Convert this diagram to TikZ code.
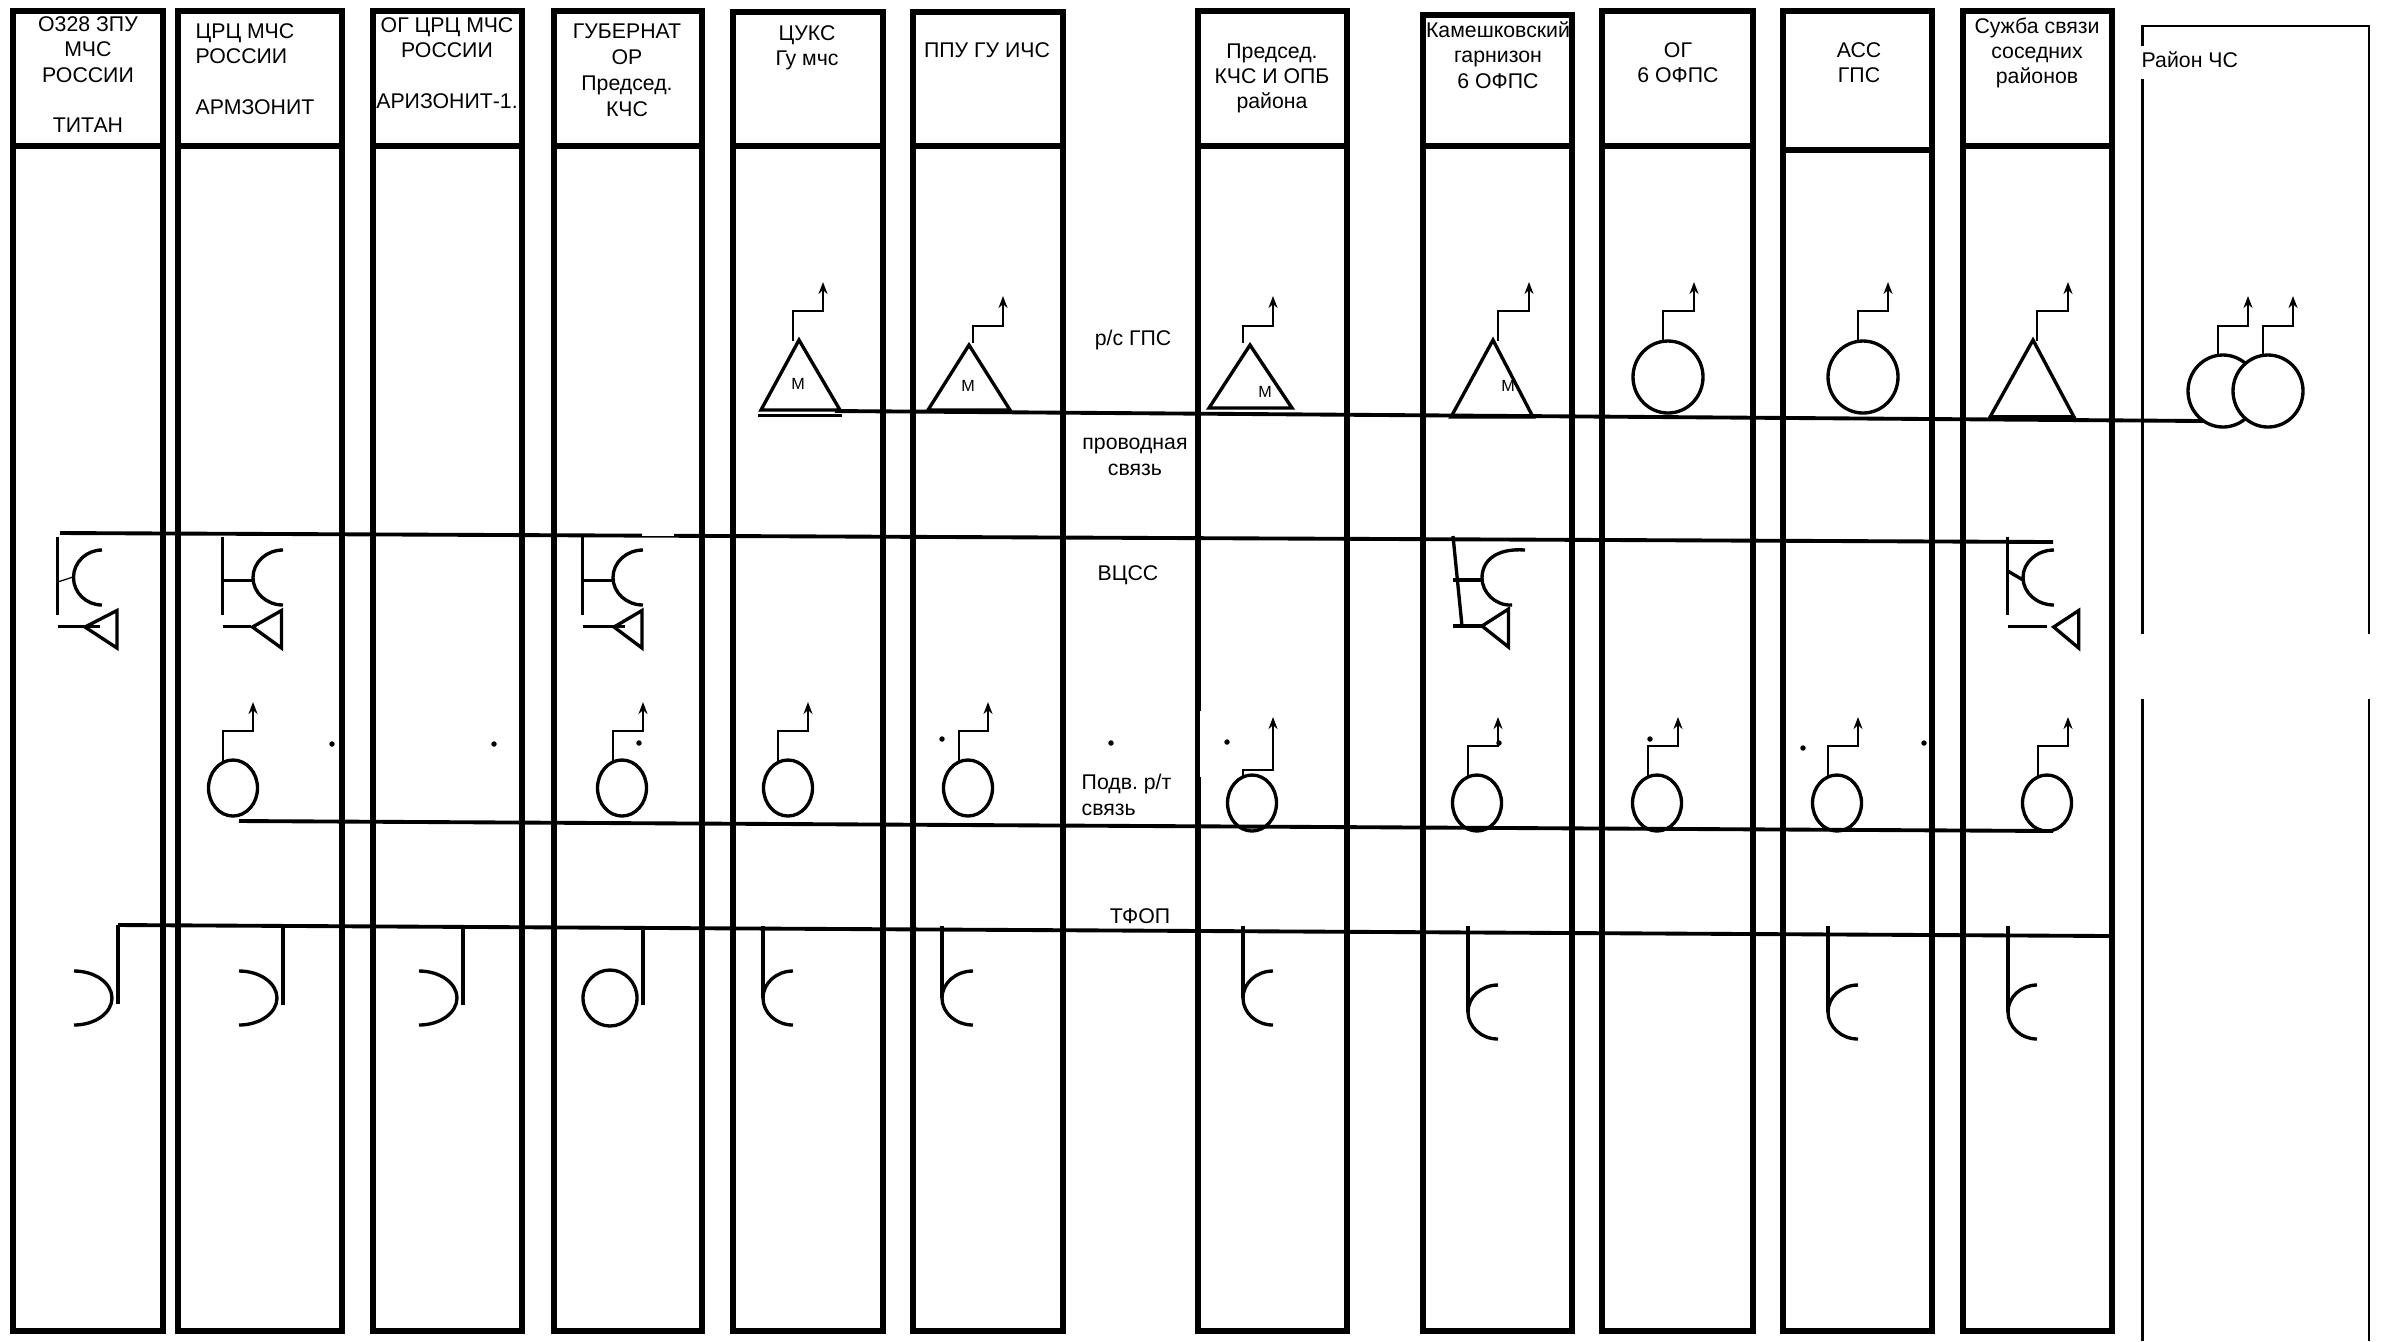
\documentclass[tikz,border=0pt]{standalone}
\usepackage{fontspec}
\setmainfont{Liberation Sans}
\usepackage{tikz}
\usetikzlibrary{positioning,arrows.meta}
\tikzset{
  lane/.style={line width=1.7pt},
  hdrln/.style={line width=1.75pt},
  bus/.style={line width=1.1pt},
  thinln/.style={line width=0.6pt},
  hair/.style={line width=0.35pt},
  sym/.style={line width=0.95pt},
  stub/.style={line width=1.1pt},
  antenna/.style={line width=0.65pt,-{Stealth[length=1.2mm,width=0.9mm]}},
  dotpt/.style={circle,fill=black,inner sep=0.55pt},
  hdr/.style={anchor=north,align=center,inner sep=0pt,font=\fontsize{6.05}{7.2}\selectfont},
  lbl/.style={inner sep=0pt,align=center,font=\fontsize{6.05}{7.2}\selectfont},
  mlbl/.style={inner sep=0pt,font=\fontsize{4.6}{5}\selectfont},
}
\begin{document}
\frenchspacing
\begin{tikzpicture}[x=0.01cm,y=-0.01cm]
  \useasboundingbox (0,0) rectangle (2381,1341);
  % lanes: left/right/top/bottom of the header
  \foreach \lx/\rx/\ty/\by in {13/163/11/146,178/342/11/146,373/522/11/146,554/702/11/146,
    733/883/12/146,913/1063/12/146,1198/1347/11/146,1423/1572/15/146,1602/1753/11/146,
    1783/1932/11/150,1963/2112/11/146}{
    \draw[lane] (\lx,\ty) rectangle (\rx,1331);
    \draw[hdrln] (\lx,\ty)--(\rx,\ty);
    \draw[hdrln] (\lx,\by)--(\rx,\by);
  }
  \fill[white] (1199.5,711) rectangle (1202,777);
  % Rayon CHS, open at the bottom
  \draw[thinln] (2142.5,45.5)--(2142.5,26)--(2369,26)--(2369,634);
  \draw[thinln] (2142.5,79)--(2142.5,634);
  \draw[thinln] (2142.5,699)--(2142.5,1341);
  \draw[thinln] (2369,699)--(2369,1341);
  % headers
  \node[hdr] (h1) at (88,16) {О328 ЗПУ\\МЧС\\РОССИИ\\[7.2pt]ТИТАН};
  \node[hdr,align=left] (h2) at (255,23) {ЦРЦ МЧС\\РОССИИ\\[7.2pt]АРМЗОНИТ};
  \node[hdr] (h3) at (447,17) {ОГ ЦРЦ МЧС\\РОССИИ\\[7.2pt]АРИЗОНИТ-1.};
  \node[hdr,font=\fontsize{6.05}{7.4}\selectfont] (h4) at (627,23) {ГУБЕРНАТ\\ОР\\Председ.\\КЧС};
  \node[hdr] (h5) at (807,25) {ЦУКС\\Гу мчс};
  \node[hdr] (h6) at (987,42) {ППУ ГУ ИЧС};
  \node[hdr] (h7) at (1272,43) {Председ.\\КЧС И ОПБ\\района};
  \node[hdr] (h8) at (1498,21) {Камешковский\\гарнизон\\6 ОФПС};
  \node[hdr] (h9) at (1678,42) {ОГ\\6 ОФПС};
  \node[hdr] (h10) at (1859,42) {АСС\\ГПС};
  \node[hdr] (h11) at (2037,17) {Сужба связи\\соседних\\районов};
  \node[lbl,anchor=west] (h12) at (2141,60) {Район ЧС};
  % row labels
  \node[lbl] (rs) at (1133,340) {р/с ГПС};
  \node[lbl] (wire) at (1135,457) {проводная\\связь};
  \node[lbl] (vcss) at (1128,575) {ВЦСС};
  \node[lbl,align=left,anchor=west] (podv) at (1081,795) {Подв. р/т\\связь};
  \node[lbl] (tfop) at (1140,916) {ТФОП};
  % bus lines
  \draw[bus] (835,411)--(2203,421);
  \draw[bus] (60,533)--(2053,542);
  \draw[bus] (239,821)--(2053,831);
  \draw[bus] (118,925)--(2111,936);
  \draw[sym] (118,925)--(118,1004);
  \fill[white] (642,530) rectangle (674,535.6);
  % triangles of the radio row
  \foreach \ax/\ay/\lx/\rx/\by in {799/340/761/840/410,969/345/928/1010/410,1250/345/1209/1292/408,
    1493/340/1451/1533/417,2033/340/1990/2074/417}{
    \draw[sym] (\ax,\ay)--(\lx,\by)--(\rx,\by)--cycle;
  }
  \draw[sym] (758,415.5)--(842,415.5);
  \draw[bus] (1990,417)--(2074,417);
  \node[mlbl] (m5) at (798,384) {М};
  \node[mlbl] (m6) at (968,386) {М};
  \node[mlbl] (m7) at (1265,392) {М};
  \node[mlbl] (m8) at (1508,386) {М};
  % circles of the radio row
  \foreach \cx/\cy in {1668/377,1863/377,2223/391,2268/391}{
    \draw[sym,fill=white] (\cx,\cy) ellipse [x radius=35,y radius=36];
  }
  % circles of the underground row
  \foreach \cx/\cy in {233/788,622/788,788/788,968/788,1252/803,1477/803,1657/803,1837/803,2047/803}{
    \draw[sym] (\cx,\cy) ellipse [x radius=24.5,y radius=28];
  }
  % aerials
  \foreach \ax/\ay/\bx/\by/\ty in {793/341/823/311/282,973/343/1003/326/296,1243/343/1273/326/296,
    1498/341/1529/311/282,1663/340/1694/311/282,1858/340/1888/311/282,2037/341/2068/311/282,
    2218/355/2248/326/296,2263/355/2293/326/296,
    223/761/253/731/702,613/761/643/731/702,778/761/808/731/702,959/761/988/731/702,
    1243/777/1273/770/717,1468/776/1498/746/717,1648/776/1678/746/717,1828/776/1858/746/717,2038/776/2068/746/717}{
    \draw[antenna] (\ax,\ay)--(\ax,\by)--(\bx,\by)--(\bx,\ty);
  }
  % stray dots
  \foreach \dx/\dy in {332/744,494/744,639/743,942/739,1111/743,1227/742,1499/743,1650/739,1803/748,1924/743}{
    \node[dotpt] at (\dx,\dy) {};
  }
  % VCSS sets: upright bar, cup, horn
  \foreach \bx/\rx/\rr/\tx/\tw in {57.7/102/28.5/117/32,222.7/283/30/281.5/29,582.5/643/30/642/28,2007.7/2054/31/2078.7/25}{
    \draw[sym] (\bx,536.5)--(\bx,615);
    \draw[sym] (\rx,550) arc [start angle=270,end angle=90,x radius=\rr,y radius=27.5];
    \draw[sym] (\tx,610.5)--(\tx-\tw,627)--(\tx,648)--cycle;
  }
  \draw[hair] (57.7,582)--(73,577);
  \draw[stub] (222.7,580.5)--(253,580.5);
  \draw[stub] (582.5,580.5)--(613,580.5);
  \draw[sym] (2007.7,571)--(2023,580);
  \draw[stub] (57.7,626.5)--(100,626.5);
  \draw[stub] (222.7,626.5)--(251,626.5);
  \draw[stub] (582.5,626.5)--(625,626.5);
  \draw[stub] (2007.7,626.5)--(2047,626.5);
  % the one set with a leaning bar
  \draw[sym] (1453,536)--(1462,626);
  \draw[sym] (1525,550) .. controls (1497,548) and (1482,560) .. (1482,578) .. controls (1482,592) and (1495,606) .. (1512,605);
  \draw[stub] (1453,580)--(1482,580);
  \draw[sym] (1508.5,609)--(1482,626)--(1508.5,647)--cycle;
  \draw[stub] (1453,626)--(1482,626);
  % TFOP sets, cup open to the left
  \foreach \bx/\lx/\ty in {283/239/927,463/419/928}{
    \draw[sym] (\bx,\ty)--(\bx,1005);
    \draw[sym] (\lx,971) arc [start angle=270,end angle=450,x radius=38,y radius=27];
  }
  \draw[sym] (74,971) arc [start angle=270,end angle=450,x radius=38,y radius=27];
  \draw[sym] (643,926)--(643,1005);
  \draw[sym] (610,998) ellipse [x radius=27,y radius=28];
  % TFOP sets, cup open to the right
  \foreach \bx/\rx/\ty/\my in {763/793/926/998,942/973/926/998,1243/1273/926/998,1468/1498/926/1012,1828/1858/926/1012,2008/2037/926/1012}{
    \draw[sym] (\bx,\ty)--(\bx,\my);
    \draw[sym] (\rx,\my-27) arc [start angle=270,end angle=90,x radius=\rx-\bx,y radius=27];
  }
\end{tikzpicture}
\end{document}
